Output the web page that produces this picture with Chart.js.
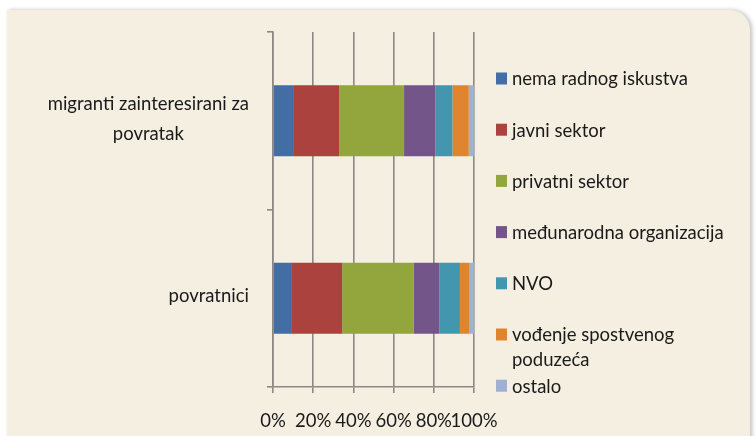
<!DOCTYPE html>
<html>
<head>
<meta charset="utf-8">
<script src="https://cdn.jsdelivr.net/npm/chart.js@4"></script>
<style>
  html, body { margin: 0; padding: 0; background: #fff; }
  #wrap { position: relative; width: 756px; height: 436px; overflow: hidden; }
  #panel {
    position: absolute; left: 7px; top: 10px; width: 743px; height: 440px;
    background: #f5efe2; border-top-right-radius: 20px;
    box-shadow: 2px 0 4px rgba(0, 0, 0, 0.25);
  }
  #chart { position: absolute; left: 0; top: 0; }
</style>
</head>
<body>
<div id="wrap">
  <div id="panel"></div>
  <canvas id="chart" width="756" height="436"></canvas>
</div>
<script>
const categories = [
  ['migranti zainteresirani za', 'povratak'],
  ['povratnici']
];

const seriesNames = [
  ['nema radnog iskustva'],
  ['javni sektor'],
  ['privatni sektor'],
  ['međunarodna organizacija'],
  ['NVO'],
  ['vođenje spostvenog', 'poduzeća'],
  ['ostalo']
];

const seriesColors = [
  '#426ea5', '#ac423e', '#93a53d', '#735589', '#4297ae', '#df8530', '#9fb0d2'
];

// share in % per category: [migranti, povratnici]
const nemaIskustva = [10.0, 9.0];
const javniSektor = [22.9, 25.4];
const privatniSektor = [32.3, 35.5];
const medjunarodna = [15.6, 12.8];
const nvo = [8.5, 10.3];
const vlastitoPoduzece = [8.1, 4.5];
const ostalo = [2.6, 2.5];

const seriesValues = [
  nemaIskustva, javniSektor, privatniSektor, medjunarodna, nvo, vlastitoPoduzece, ostalo
];

const xTicks = [0, 20, 40, 60, 80, 100];

const FONT = 'Lato';
const FONT_SIZE = 18.5;
const TEXT = '#1a1a1a';
const GRID = '#8c8985';

//////////

// category labels: block right-aligned to the axis, lines centred inside the block
const categoryLabels = {
  id: 'categoryLabels',
  afterDraw(chart){
    const { ctx, chartArea } = chart;
    const yScale = chart.scales.y;
    ctx.save();
    ctx.font = `${FONT_SIZE}px ${FONT}`;
    ctx.fillStyle = TEXT;
    ctx.textAlign = 'center';
    ctx.textBaseline = 'middle';
    const lineH = 30;
    categories.forEach((lines, i) => {
      const maxW = Math.max(...lines.map(l => ctx.measureText(l).width));
      const cx = chartArea.left - 24 - maxW / 2;
      const cy = yScale.getPixelForValue(i) - 2;
      const y0 = cy - (lines.length - 1) * lineH / 2;
      lines.forEach((l, j) => ctx.fillText(l, cx, y0 + j * lineH));
    });
    ctx.restore();
  }
};

// legend with evenly spread rows like the original
const sideLegend = {
  id: 'sideLegend',
  afterDraw(chart){
    const { ctx, chartArea } = chart;
    ctx.save();
    ctx.font = `${FONT_SIZE}px ${FONT}`;
    ctx.textBaseline = 'middle';
    const boxX = chartArea.right + 22;
    const top = 78.5;
    const step = 51.2;
    chart.data.datasets.forEach((ds, i) => {
      const y = top + i * step;
      ctx.fillStyle = ds.backgroundColor;
      ctx.fillRect(boxX, y - 6, 11, 12);
      ctx.fillStyle = TEXT;
      ds.legendLines.forEach((l, j) => ctx.fillText(l, boxX + 16, y + 1 + j * 25));
    });
    ctx.restore();
  }
};

const datasets = seriesValues.map((vals, i) => ({
  label: seriesNames[i].join(' '),
  legendLines: seriesNames[i],
  data: vals,
  backgroundColor: seriesColors[i],
  borderWidth: 0,
  categoryPercentage: 0.4,
  barPercentage: 1.0,
}));

new Chart(document.getElementById('chart'), {
  type: 'bar',
  data: {
    labels: categories.map(c => c.join(' ')),
    datasets: datasets
  },
  options: {
    indexAxis: 'y',
    responsive: false,
    animation: false,
    layout: {
      padding: { left: 267, right: 282, top: 32, bottom: 0 }
    },
    plugins: {
      legend: { display: false },
      tooltip: { enabled: false }
    },
    scales: {
      x: {
        type: 'linear',
        stacked: true,
        min: 0,
        max: 100,
        afterBuildTicks: scale => { scale.ticks = xTicks.map(v => ({ value: v })); },
        afterFit: scale => { scale.height = 49; },
        grid: {
          color: GRID,
          lineWidth: 1.6,
          tickLength: 6,
          drawTicks: true
        },
        border: { display: true, color: GRID, width: 1.6 },
        ticks: {
          autoSkip: false,
          maxRotation: 0,
          padding: 17,
          color: TEXT,
          font: { family: FONT, size: FONT_SIZE },
          callback: v => v + '%'
        }
      },
      y: {
        stacked: true,
        grid: {
          offset: true,
          drawOnChartArea: false,
          color: GRID,
          lineWidth: 1.6,
          tickLength: 6
        },
        border: { display: true, color: GRID, width: 1.6 },
        ticks: { display: false }
      }
    }
  },
  plugins: [categoryLabels, sideLegend]
});
</script>
</body>
</html>
